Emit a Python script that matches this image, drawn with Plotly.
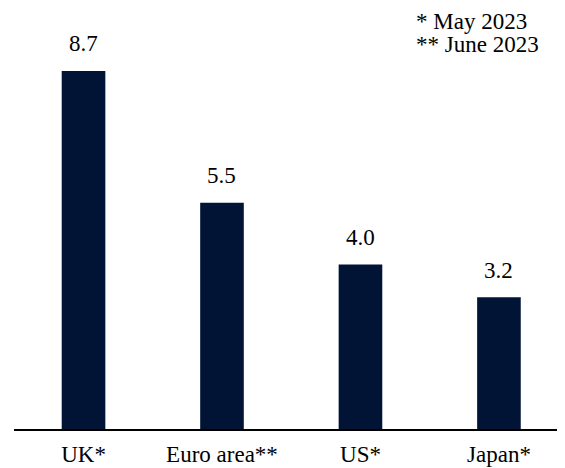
import plotly.graph_objects as go

categories = ["UK*", "Euro area**", "US*", "Japan*"]
values = [8.7, 5.5, 4.0, 3.2]
value_labels = ["8.7", "5.5", "4.0", "3.2"]
notes = ["* May 2023", "** June 2023"]

FONT = "Liberation Serif, Times New Roman, serif"
BAR_COLOR = "#021436"
FS = 23

fig = go.Figure()
fig.add_trace(go.Bar(
    x=list(range(len(categories))),
    y=values,
    marker=dict(color=BAR_COLOR, line=dict(width=0)),
    width=0.315,
    hoverinfo="skip",
))

for i, (v, t) in enumerate(zip(values, value_labels)):
    fig.add_annotation(x=i, y=v, xref="x", yref="y", text=t, showarrow=False,
                       yanchor="middle", yshift=27,
                       font=dict(family=FONT, size=FS, color="#000000"))

note_y = [0.968, 0.913]
for t, yy in zip(notes, note_y):
    fig.add_annotation(x=0.726, y=yy, xref="paper", yref="paper", text=t,
                       showarrow=False, xanchor="left", yanchor="middle",
                       font=dict(family=FONT, size=FS, color="#000000"))

fig.update_layout(
    width=557, height=460,
    margin=dict(l=6, r=0, t=0, b=39),
    paper_bgcolor="white", plot_bgcolor="white",
    showlegend=False,
    font=dict(family=FONT, size=FS, color="#000000"),
    xaxis=dict(
        range=[-0.502, 3.477],
        tickmode="array",
        tickvals=list(range(len(categories))),
        ticktext=categories,
        showline=True, linecolor="#000000", linewidth=2,
        showgrid=False, zeroline=False, ticks="",
        tickfont=dict(family=FONT, size=FS, color="#000000"),
        ticklabelstandoff=3,
    ),
    yaxis=dict(range=[0, 10.23], visible=False, showgrid=False, zeroline=False),
)

fig.write_html("out.html")
